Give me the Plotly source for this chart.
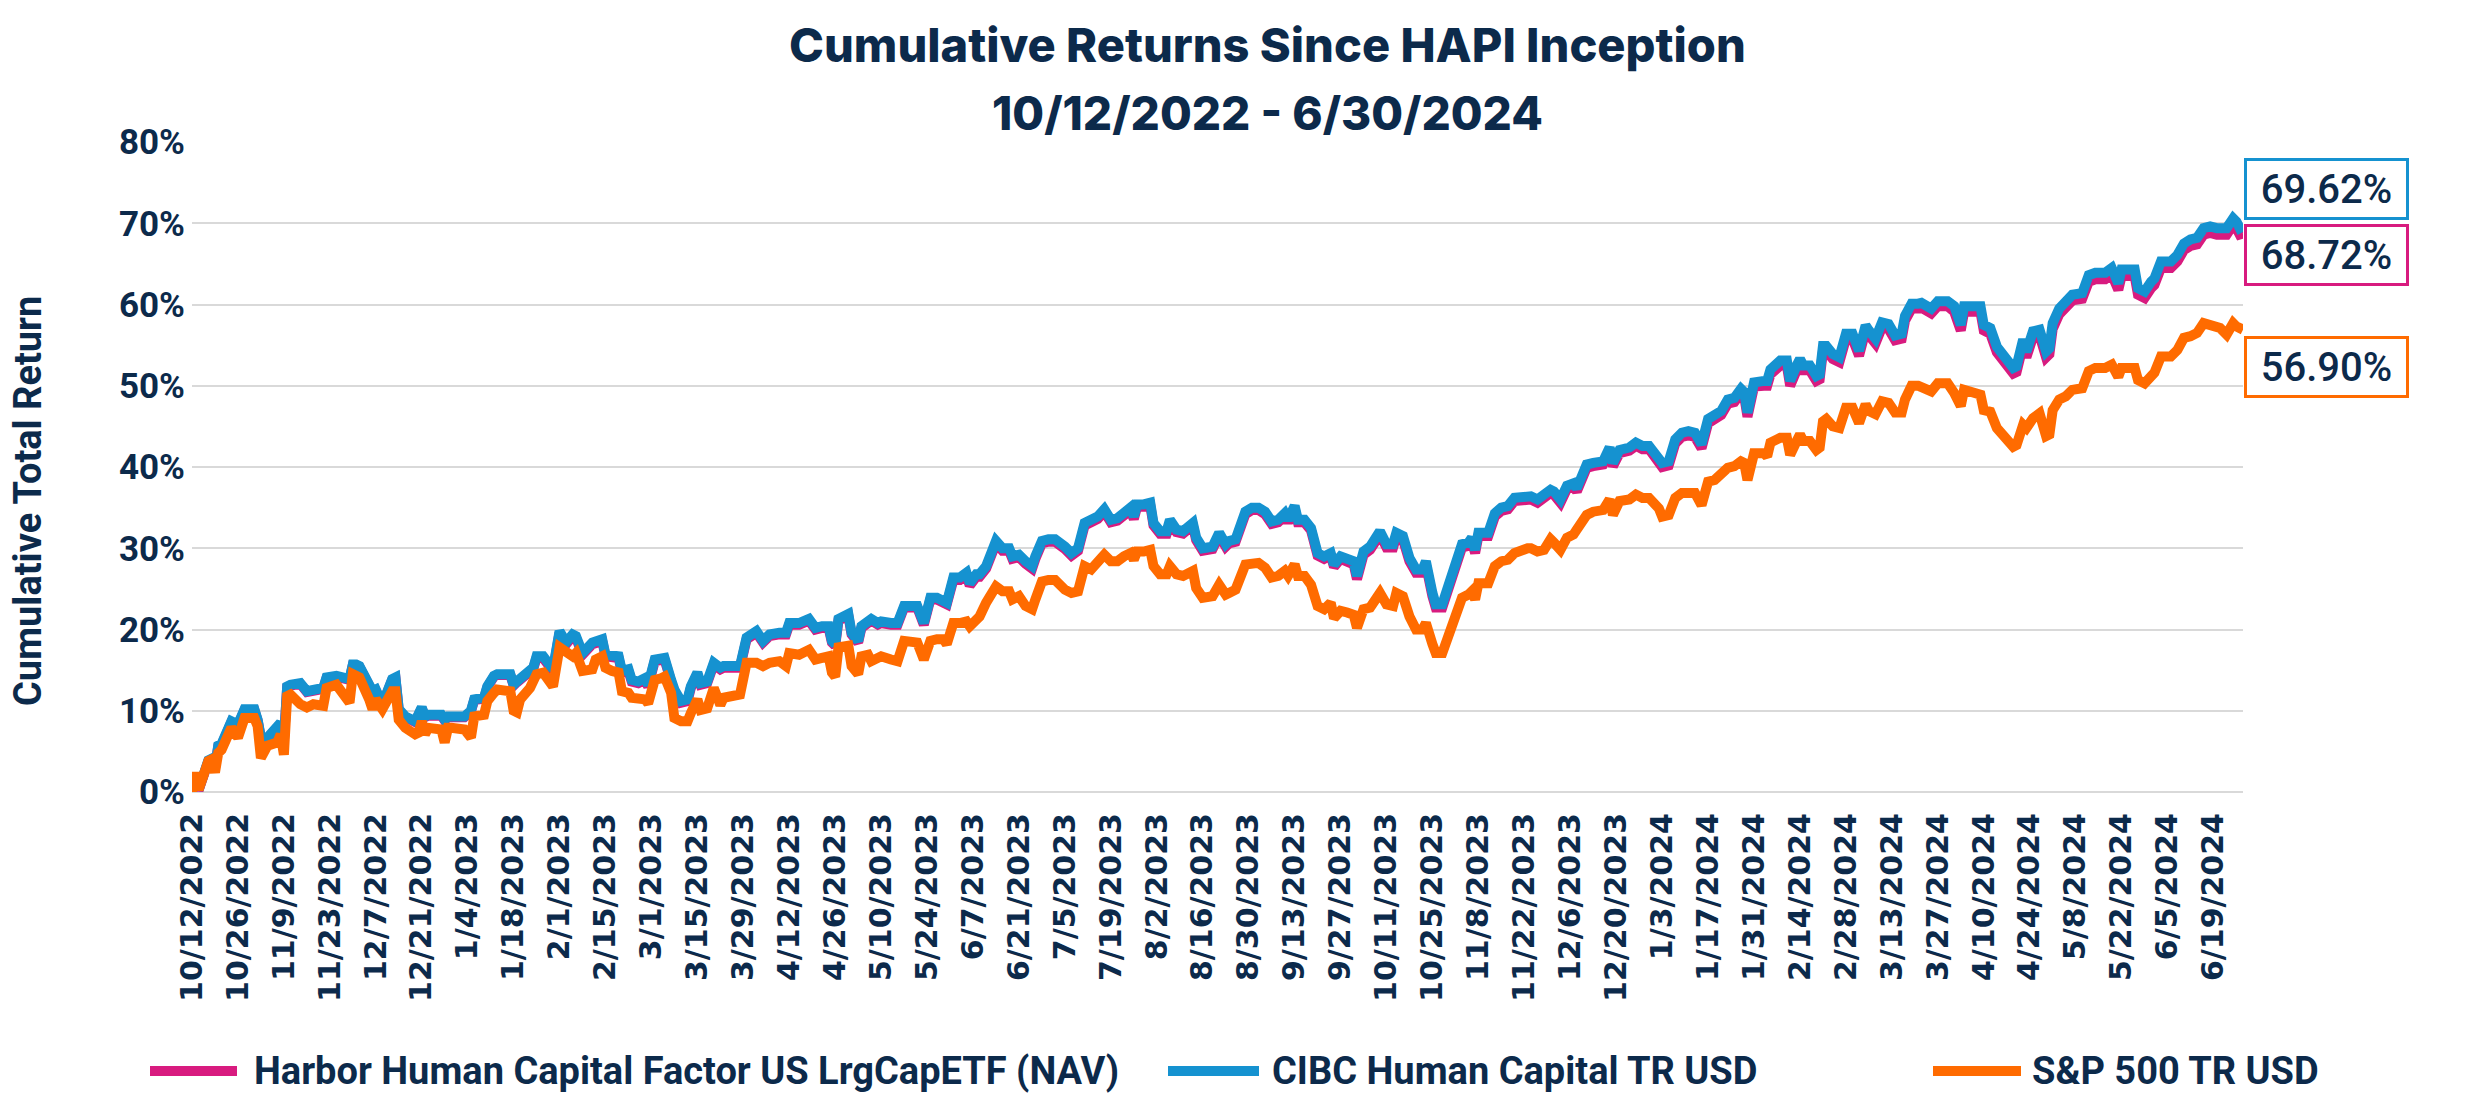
import plotly.graph_objects as go
import pandas as pd

# ---------------- data ----------------
dates = [
    "2022-10-12", "2022-10-13", "2022-10-14", "2022-10-17", "2022-10-18", "2022-10-19", "2022-10-20", "2022-10-21",
    "2022-10-24", "2022-10-26", "2022-10-28", "2022-10-31", "2022-11-01", "2022-11-02", "2022-11-04", "2022-11-07",
    "2022-11-08", "2022-11-09", "2022-11-10", "2022-11-11", "2022-11-14", "2022-11-16", "2022-11-18", "2022-11-21",
    "2022-11-22", "2022-11-24", "2022-11-25", "2022-11-29", "2022-11-30", "2022-12-01", "2022-12-02", "2022-12-05",
    "2022-12-06", "2022-12-07", "2022-12-09", "2022-12-12", "2022-12-13", "2022-12-14", "2022-12-16", "2022-12-19",
    "2022-12-20", "2022-12-21", "2022-12-22", "2022-12-23", "2022-12-27", "2022-12-28", "2022-12-29", "2022-12-30",
    "2023-01-03", "2023-01-05", "2023-01-06", "2023-01-09", "2023-01-10", "2023-01-12", "2023-01-13", "2023-01-17",
    "2023-01-18", "2023-01-19", "2023-01-20", "2023-01-23", "2023-01-24",
    "2023-01-25", "2023-01-27", "2023-01-30", "2023-02-01", "2023-02-03", "2023-02-05", "2023-02-06", "2023-02-08",
    "2023-02-11", "2023-02-12", "2023-02-14", "2023-02-15", "2023-02-17", "2023-02-19", "2023-02-20", "2023-02-22",
    "2023-02-23", "2023-02-25", "2023-02-27", "2023-02-28", "2023-03-02", "2023-03-04", "2023-03-05", "2023-03-07",
    "2023-03-08", "2023-03-10", "2023-03-12", "2023-03-13", "2023-03-15", "2023-03-16", "2023-03-18", "2023-03-20",
    "2023-03-22", "2023-03-23", "2023-03-26", "2023-03-28", "2023-03-30", "2023-04-01", "2023-04-02", "2023-04-04",
    "2023-04-06", "2023-04-09", "2023-04-11", "2023-04-12", "2023-04-15", "2023-04-18", "2023-04-20", "2023-04-22",
    "2023-04-24", "2023-04-25", "2023-04-26", "2023-04-27", "2023-04-30", "2023-05-01", "2023-05-03", "2023-05-04",
    "2023-05-06", "2023-05-07", "2023-05-09",
    "2023-05-10", "2023-05-13", "2023-05-15", "2023-05-17", "2023-05-19", "2023-05-21", "2023-05-23", "2023-05-25",
    "2023-05-27", "2023-05-29", "2023-05-30", "2023-06-01", "2023-06-03", "2023-06-05", "2023-06-06", "2023-06-08",
    "2023-06-09", "2023-06-11", "2023-06-12", "2023-06-14", "2023-06-16", "2023-06-18", "2023-06-19", "2023-06-21",
    "2023-06-23", "2023-06-25", "2023-06-26", "2023-06-28", "2023-06-30", "2023-07-02", "2023-07-05", "2023-07-07",
    "2023-07-09", "2023-07-11", "2023-07-13", "2023-07-15", "2023-07-17", "2023-07-19", "2023-07-21", "2023-07-23",
    "2023-07-25", "2023-07-26", "2023-07-27", "2023-07-29", "2023-07-31", "2023-08-01", "2023-08-03", "2023-08-05",
    "2023-08-06", "2023-08-08", "2023-08-10", "2023-08-13", "2023-08-14", "2023-08-16", "2023-08-19", "2023-08-21",
    "2023-08-23",
    "2023-08-24", "2023-08-26", "2023-08-29", "2023-08-31", "2023-09-02", "2023-09-04", "2023-09-06", "2023-09-08",
    "2023-09-10", "2023-09-11", "2023-09-13", "2023-09-14", "2023-09-16", "2023-09-18", "2023-09-20", "2023-09-22",
    "2023-09-24", "2023-09-25", "2023-09-27", "2023-09-29", "2023-10-01", "2023-10-02", "2023-10-03", "2023-10-04",
    "2023-10-06", "2023-10-08", "2023-10-09", "2023-10-11", "2023-10-13", "2023-10-14", "2023-10-16", "2023-10-18",
    "2023-10-20", "2023-10-22", "2023-10-23", "2023-10-25", "2023-10-26", "2023-10-28", "2023-10-30", "2023-11-01",
    "2023-11-03", "2023-11-05", "2023-11-06", "2023-11-07", "2023-11-08", "2023-11-11", "2023-11-13", "2023-11-15",
    "2023-11-17", "2023-11-19", "2023-11-21", "2023-11-23", "2023-11-24", "2023-11-26", "2023-11-28", "2023-11-30",
    "2023-12-01", "2023-12-03", "2023-12-05", "2023-12-07",
    "2023-12-08", "2023-12-11", "2023-12-13", "2023-12-16", "2023-12-18", "2023-12-19", "2023-12-21", "2023-12-24",
    "2023-12-26", "2023-12-28", "2023-12-30", "2024-01-02", "2024-01-03", "2024-01-05", "2024-01-07", "2024-01-09",
    "2024-01-11", "2024-01-13", "2024-01-15", "2024-01-17", "2024-01-19", "2024-01-21", "2024-01-23", "2024-01-25",
    "2024-01-27", "2024-01-28", "2024-01-29", "2024-01-31", "2024-02-03", "2024-02-04", "2024-02-05", "2024-02-07",
    "2024-02-08", "2024-02-10", "2024-02-11", "2024-02-13", "2024-02-14", "2024-02-15", "2024-02-17", "2024-02-19",
    "2024-02-20", "2024-02-21", "2024-02-22", "2024-02-24", "2024-02-26", "2024-02-28", "2024-03-01", "2024-03-03",
    "2024-03-05", "2024-03-06", "2024-03-08", "2024-03-10", "2024-03-12", "2024-03-14", "2024-03-16", "2024-03-17",
    "2024-03-19", "2024-03-21",
    "2024-03-22", "2024-03-25", "2024-03-27", "2024-03-30", "2024-04-01", "2024-04-03", "2024-04-04", "2024-04-07",
    "2024-04-09", "2024-04-10", "2024-04-12", "2024-04-14", "2024-04-16", "2024-04-19", "2024-04-20", "2024-04-22",
    "2024-04-23", "2024-04-25", "2024-04-27", "2024-04-29", "2024-04-30", "2024-05-01", "2024-05-03", "2024-05-05",
    "2024-05-07", "2024-05-10", "2024-05-12", "2024-05-14", "2024-05-17", "2024-05-19", "2024-05-21", "2024-05-22",
    "2024-05-26", "2024-05-27", "2024-05-29", "2024-05-31", "2024-06-01", "2024-06-03", "2024-06-06", "2024-06-08",
    "2024-06-10", "2024-06-12", "2024-06-14", "2024-06-16", "2024-06-18", "2024-06-20", "2024-06-21", "2024-06-23",
    "2024-06-24", "2024-06-25", "2024-06-26", "2024-06-27", "2024-06-28",
]

cibc = [
    0.0, 2.0, 0.3, 3.9, 4.1, 3.0, 5.7, 5.9, 8.7, 8.3, 10.2, 10.2, 8.9, 6.7, 6.7, 8.1,
    8.5, 6.3, 13.0, 13.2, 13.4, 12.4, 12.6, 12.8, 14.1, 14.3, 14.3, 13.9, 15.7, 15.7, 15.5, 13.2,
    12.4, 12.6, 10.8, 13.9, 14.1, 10.2, 9.3, 8.7, 9.8, 10.4, 9.3, 9.5, 9.5, 8.9, 9.3, 9.3,
    9.3, 10.0, 11.4, 11.6, 13.0, 14.3, 14.5, 14.5, 13.2, 13.6, 13.9, 15.1, 15.3,
    16.7, 16.7, 15.1, 19.8, 18.4, 19.4, 19.2, 17.1, 18.4, 18.6, 18.8, 16.9, 16.7, 16.7, 14.9, 15.1,
    13.8, 13.6, 14.0, 13.2, 16.3, 16.3, 16.5, 13.8, 12.6, 11.2, 11.4, 13.0, 14.7, 13.4, 13.6, 15.9,
    15.3, 15.5, 15.5, 15.5, 19.0, 19.4, 19.8, 18.6, 19.4, 19.6, 19.6, 20.8, 20.8, 21.3, 20.2, 20.4,
    20.4, 18.6, 18.2, 21.3, 21.9, 19.6, 18.6, 20.4, 20.8, 21.3, 20.8,
    21.0, 20.8, 20.8, 22.9, 22.9, 22.9, 20.8, 23.9, 23.9, 23.7, 23.3, 26.4, 26.4, 27.0, 25.7, 26.8,
    26.8, 27.8, 29.2, 30.9, 30.0, 30.0, 29.0, 29.2, 28.4, 27.8, 29.0, 30.9, 31.1, 31.1, 30.2, 29.4,
    30.0, 33.1, 33.5, 33.9, 34.8, 33.5, 33.7, 34.5, 35.0, 33.9, 35.4, 35.4, 35.6, 33.1, 32.1, 32.1,
    33.5, 32.3, 32.1, 33.1, 31.3, 30.0, 30.2, 31.9, 30.5,
    30.9, 31.1, 34.5, 35.0, 35.0, 34.5, 33.3, 33.5, 34.3, 33.5, 35.2, 33.5, 33.5, 32.5, 29.4, 29.0,
    29.4, 28.0, 29.0, 28.6, 28.4, 26.6, 27.8, 29.6, 30.2, 31.5, 32.1, 30.5, 30.5, 31.9, 31.5, 28.8,
    27.4, 27.4, 28.4, 24.5, 23.1, 23.1, 25.3, 28.2, 30.5, 30.7, 31.3, 29.8, 31.9, 31.9, 34.3, 35.0,
    35.2, 36.2, 36.4, 36.4, 36.4, 36.0, 36.6, 37.2, 37.0, 36.0, 37.7, 38.0,
    37.4, 40.3, 40.5, 40.7, 42.4, 40.5, 42.1, 42.4, 43.0, 42.6, 42.6, 41.1, 40.5, 40.7, 43.4, 44.2,
    44.4, 44.2, 42.8, 45.9, 46.3, 46.9, 48.3, 48.5, 49.6, 49.2, 46.7, 50.4, 50.6, 50.6, 52.0, 52.9,
    53.1, 53.1, 50.6, 52.5, 53.3, 52.5, 52.5, 51.2, 51.4, 54.9, 54.9, 53.9, 53.5, 56.4, 56.4, 54.3,
    57.4, 56.8, 55.8, 57.8, 57.6, 56.2, 56.4, 58.6, 60.1, 60.1,
    60.2, 59.5, 60.4, 60.4, 59.8, 57.5, 59.8, 59.8, 59.8, 57.5, 57.1, 54.8, 53.6, 52.2, 52.4, 55.7,
    54.2, 56.7, 56.9, 54.2, 54.6, 57.7, 59.5, 60.6, 61.2, 61.4, 63.6, 63.9, 63.9, 64.5, 62.6, 64.3,
    64.3, 62.0, 61.6, 62.8, 63.2, 65.3, 65.3, 66.1, 67.5, 68.0, 68.2, 69.4, 69.6, 69.4, 69.4, 69.4,
    70.0, 70.6, 70.2, 69.4, 69.62,
]

harbor = [
    0.0, 1.9, 0.2, 3.8, 4.0, 2.9, 5.6, 5.8, 8.6, 8.2, 10.1, 10.1, 8.8, 6.6, 6.6, 8.0,
    8.4, 6.2, 12.9, 13.1, 13.3, 12.3, 12.5, 12.7, 14.0, 14.2, 14.2, 13.8, 15.6, 15.6, 15.4, 13.1,
    12.3, 12.5, 10.7, 13.8, 14.0, 10.1, 9.2, 8.6, 9.7, 10.3, 9.2, 9.4, 9.4, 8.8, 9.2, 9.2,
    9.2, 9.9, 11.3, 11.5, 12.9, 14.2, 14.4, 14.4, 13.1, 13.5, 13.8, 15.0, 15.2,
    16.5, 16.5, 14.9, 19.6, 18.2, 19.2, 19.0, 16.9, 18.2, 18.4, 18.6, 16.7, 16.5, 16.5, 14.7, 14.9,
    13.6, 13.4, 13.8, 13.0, 16.1, 16.1, 16.3, 13.6, 12.4, 11.0, 11.2, 12.8, 14.5, 13.2, 13.4, 15.7,
    15.1, 15.3, 15.3, 15.3, 18.8, 19.2, 19.6, 18.4, 19.2, 19.4, 19.4, 20.6, 20.6, 21.1, 20.0, 20.2,
    20.2, 18.4, 18.0, 21.1, 21.7, 19.4, 18.4, 20.2, 20.6, 21.1, 20.6,
    20.8, 20.6, 20.6, 22.7, 22.7, 22.7, 20.6, 23.7, 23.7, 23.5, 23.1, 26.1, 26.1, 26.7, 25.4, 26.5,
    26.5, 27.5, 28.9, 30.6, 29.7, 29.7, 28.7, 28.9, 28.1, 27.5, 28.7, 30.6, 30.8, 30.8, 29.9, 29.1,
    29.7, 32.8, 33.2, 33.6, 34.5, 33.2, 33.4, 34.2, 34.7, 33.6, 35.1, 35.1, 35.3, 32.8, 31.8, 31.8,
    33.2, 32.0, 31.8, 32.8, 31.0, 29.7, 29.9, 31.6, 30.2,
    30.6, 30.8, 34.2, 34.7, 34.7, 34.2, 33.0, 33.2, 34.0, 33.2, 34.9, 33.2, 33.2, 32.2, 29.1, 28.7,
    29.1, 27.7, 28.7, 28.3, 28.0, 26.2, 27.4, 29.2, 29.8, 31.1, 31.7, 30.1, 30.1, 31.5, 31.1, 28.4,
    27.0, 27.0, 28.0, 24.1, 22.7, 22.7, 24.9, 27.8, 30.1, 30.3, 30.9, 29.4, 31.5, 31.5, 33.9, 34.6,
    34.8, 35.8, 36.0, 36.0, 36.0, 35.6, 36.2, 36.8, 36.6, 35.6, 37.3, 37.6,
    37.0, 39.9, 40.1, 40.3, 42.0, 40.1, 41.7, 42.0, 42.6, 42.2, 42.2, 40.6, 40.0, 40.2, 42.9, 43.7,
    43.9, 43.7, 42.3, 45.4, 45.8, 46.4, 47.8, 48.0, 49.1, 48.7, 46.2, 49.9, 50.0, 50.0, 51.4, 52.3,
    52.5, 52.5, 50.0, 51.9, 52.7, 51.9, 51.9, 50.6, 50.8, 54.3, 54.3, 53.3, 52.9, 55.8, 55.8, 53.7,
    56.8, 56.2, 55.2, 57.2, 57.0, 55.6, 55.8, 58.0, 59.5, 59.5,
    59.6, 58.9, 59.8, 59.8, 59.1, 56.8, 59.1, 59.1, 59.1, 56.8, 56.4, 54.1, 52.9, 51.5, 51.7, 55.0,
    53.5, 56.0, 56.2, 53.5, 53.9, 57.0, 58.8, 59.9, 60.5, 60.7, 62.8, 63.1, 63.1, 63.7, 61.8, 63.5,
    63.5, 61.2, 60.8, 62.0, 62.4, 64.5, 64.5, 65.3, 66.7, 67.2, 67.4, 68.6, 68.8, 68.6, 68.6, 68.6,
    69.2, 69.8, 69.4, 68.6, 68.72,
]

sp500 = [
    0.0, 2.4, 0.3, 3.8, 4.0, 2.4, 4.8, 5.2, 7.9, 6.7, 9.1, 9.1, 8.1, 4.2, 5.7, 6.1,
    7.1, 4.6, 11.8, 12.0, 10.8, 10.4, 10.8, 10.6, 12.8, 13.2, 13.2, 11.0, 14.5, 14.3, 14.1, 11.4,
    10.2, 11.4, 10.2, 12.4, 12.4, 8.9, 7.9, 7.1, 7.3, 8.7, 7.1, 7.9, 7.7, 6.1, 7.9, 7.9,
    7.7, 6.7, 9.3, 9.5, 11.2, 12.2, 12.6, 12.4, 10.0, 9.8, 11.4, 12.8, 13.4,
    14.5, 14.7, 13.0, 17.8, 17.1, 16.7, 17.1, 14.9, 15.1, 16.3, 16.7, 15.3, 14.9, 14.7, 12.4, 12.2,
    11.6, 11.4, 11.4, 10.9, 13.8, 14.0, 14.2, 12.2, 9.1, 8.7, 8.7, 9.7, 11.4, 10.1, 10.3, 12.8,
    10.7, 11.6, 12.0, 12.0, 15.9, 16.1, 15.9, 15.5, 15.9, 16.1, 15.5, 17.1, 16.9, 17.5, 16.3, 16.5,
    16.7, 14.7, 14.2, 17.8, 18.0, 15.5, 14.5, 16.7, 16.9, 16.1, 16.7,
    16.7, 16.3, 16.1, 18.6, 18.4, 18.4, 16.3, 18.6, 18.8, 18.8, 18.2, 20.8, 20.8, 21.0, 20.4, 21.4,
    21.6, 23.3, 24.1, 25.3, 24.7, 24.7, 23.7, 24.1, 22.9, 22.5, 23.7, 25.9, 26.1, 26.1, 24.9, 24.5,
    24.7, 27.8, 27.4, 28.4, 29.2, 28.4, 28.4, 29.0, 29.4, 28.6, 29.6, 29.6, 29.8, 27.8, 26.8, 26.8,
    27.8, 26.8, 26.6, 27.2, 25.1, 23.9, 24.1, 25.5, 24.3,
    24.5, 24.9, 28.0, 28.2, 28.2, 27.6, 26.4, 26.6, 27.2, 26.6, 28.0, 26.6, 26.6, 25.5, 22.9, 22.5,
    23.3, 21.4, 22.3, 22.1, 21.8, 20.2, 21.2, 22.5, 22.7, 24.1, 24.5, 23.1, 22.9, 24.5, 24.1, 21.6,
    20.0, 20.0, 20.8, 18.2, 17.1, 17.1, 19.2, 22.1, 23.9, 24.3, 24.7, 23.7, 25.7, 25.7, 27.8, 28.4,
    28.6, 29.4, 29.8, 30.0, 30.0, 29.6, 29.8, 31.1, 30.7, 29.8, 31.3, 31.7,
    32.3, 34.1, 34.5, 34.7, 36.0, 34.1, 35.8, 36.0, 36.6, 36.2, 36.2, 34.9, 33.9, 34.1, 36.2, 36.8,
    36.8, 36.8, 35.3, 38.2, 38.4, 39.1, 39.9, 40.1, 40.7, 40.5, 38.4, 41.7, 41.7, 41.3, 43.0, 43.4,
    43.6, 43.6, 41.5, 43.2, 44.0, 43.2, 43.2, 42.1, 42.4, 45.6, 45.9, 45.0, 44.8, 47.3, 47.3, 45.4,
    47.7, 46.9, 46.5, 48.1, 47.9, 46.7, 46.7, 48.3, 50.0, 50.0,
    49.9, 49.3, 50.3, 50.3, 49.1, 47.5, 49.5, 49.3, 48.9, 47.0, 46.8, 44.8, 43.8, 42.5, 42.7, 45.2,
    44.8, 46.0, 46.6, 43.8, 44.0, 47.0, 48.3, 48.7, 49.5, 49.7, 51.8, 52.2, 52.2, 52.6, 51.1, 52.2,
    52.2, 50.7, 50.3, 51.4, 51.6, 53.6, 53.6, 54.4, 55.9, 56.1, 56.5, 57.7, 57.5, 57.3, 57.1, 56.3,
    57.3, 57.7, 57.3, 56.9, 56.90,
]

series_names = ["Harbor Human Capital Factor US LrgCapETF (NAV)", "CIBC Human Capital TR USD", "S&P 500 TR USD"]
series_colors = ["#D81B7F", "#1592D0", "#FF6B00"]

tick_labels = [
    "10/12/2022", "10/26/2022", "11/9/2022", "11/23/2022", "12/7/2022", "12/21/2022", "1/4/2023", "1/18/2023",
    "2/1/2023", "2/15/2023", "3/1/2023", "3/15/2023", "3/29/2023", "4/12/2023", "4/26/2023", "5/10/2023",
    "5/24/2023", "6/7/2023", "6/21/2023", "7/5/2023", "7/19/2023", "8/2/2023", "8/16/2023", "8/30/2023",
    "9/13/2023", "9/27/2023", "10/11/2023", "10/25/2023", "11/8/2023", "11/22/2023", "12/6/2023", "12/20/2023",
    "1/3/2024", "1/17/2024", "1/31/2024", "2/14/2024", "2/28/2024", "3/13/2024", "3/27/2024", "4/10/2024",
    "4/24/2024", "5/8/2024", "5/22/2024", "6/5/2024", "6/19/2024",
]
y_ticks = [0, 10, 20, 30, 40, 50, 60, 70, 80]
y_tick_text = ["0%", "10%", "20%", "30%", "40%", "50%", "60%", "70%", "80%"]

title_line1 = "Cumulative Returns Since HAPI Inception"
title_line2 = "10/12/2022 - 6/30/2024"
y_title = "Cumulative Total Return"

# ---------------- layout geometry ----------------
W, H = 2468, 1113
PL, PR, PT, PB = 192, 2243, 142, 792
NAVY = "#0C2A4B"


def px_x(px):
    return (px - PL) / (PR - PL)


def px_y(py):
    return (PB - py) / (PB - PT)


x_dates = pd.to_datetime(dates)
tick_vals = pd.to_datetime(tick_labels, format="%m/%d/%Y")

fig = go.Figure()
for name, vals, col in zip(series_names, [harbor, cibc, sp500], series_colors):
    fig.add_trace(go.Scatter(x=x_dates, y=vals, mode="lines", name=name,
                             line=dict(color=col, width=10), showlegend=False,
                             hoverinfo="skip"))

annotations = []
annotations.append(dict(text=title_line1, x=px_x(1267), y=px_y(44), xref="paper", yref="paper",
                        xanchor="center", yanchor="middle", showarrow=False,
                        font=dict(family="Inter", size=47, color=NAVY, weight=800)))
annotations.append(dict(text=title_line2, x=px_x(1267), y=px_y(113), xref="paper", yref="paper",
                        xanchor="center", yanchor="middle", showarrow=False,
                        font=dict(family="Inter", size=46, color=NAVY, weight=800)))
annotations.append(dict(text=y_title, x=px_x(28), y=px_y(501), xref="paper", yref="paper",
                        xanchor="center", yanchor="middle", showarrow=False, textangle=-90,
                        font=dict(family="Roboto", size=38, color=NAVY, weight=700)))

# end-value boxes
end_boxes = [
    (cibc[-1], series_colors[1], 189),
    (harbor[-1], series_colors[0], 254.5),
    (sp500[-1], series_colors[2], 366.5),
]
for val, col, cy in end_boxes:
    annotations.append(dict(text=f"{val:.2f}%", x=px_x(2244), y=px_y(cy), xref="paper", yref="paper",
                            xanchor="left", yanchor="middle", showarrow=False,
                            width=159, height=56, align="center", valign="middle",
                            bordercolor=col, borderwidth=3, borderpad=0, bgcolor="white",
                            font=dict(family="Roboto", size=40, color=NAVY, weight=500)))

# custom legend
legend_items = [(150, 237, 252), (1168, 1259, 1270), (1933, 2021, 2030)]
shapes = []
LEG_Y = 1071
for (x0, x1, tx), name, col in zip(legend_items, series_names, series_colors):
    shapes.append(dict(type="line", xref="paper", yref="paper", x0=px_x(x0), x1=px_x(x1),
                       y0=px_y(LEG_Y), y1=px_y(LEG_Y), line=dict(color=col, width=10)))
    annotations.append(dict(text=name, x=px_x(tx), y=px_y(LEG_Y), xref="paper", yref="paper",
                            xanchor="left", yanchor="middle", showarrow=False,
                            font=dict(family="Roboto", size=38, color=NAVY, weight=700)))

fig.update_layout(
    width=W, height=H,
    margin=dict(l=PL, r=W - PR, t=PT, b=H - PB, pad=0),
    paper_bgcolor="white", plot_bgcolor="white",
    showlegend=False,
    annotations=annotations,
    shapes=shapes,
    xaxis=dict(type="date", range=[x_dates[0], x_dates[-1]], tickvals=tick_vals, ticktext=tick_labels,
               tickangle=-90, showgrid=False, zeroline=False, showline=False, ticks="",
               ticklabelstandoff=14,
               tickfont=dict(family="DejaVu Sans", size=30, color=NAVY, weight=700)),
    yaxis=dict(range=[0, 80], tickvals=y_ticks, ticktext=y_tick_text, showgrid=True, gridcolor="#D9D9D9",
               gridwidth=2, zeroline=True, zerolinecolor="#D9D9D9", zerolinewidth=2, showline=False,
               ticks="", ticklabelstandoff=6,
               tickfont=dict(family="Roboto", size=35, color=NAVY, weight=700)),
)

fig.write_html("out.html", config={"displayModeBar": False},
               post_script="document.body.style.margin='0';document.body.style.overflow='hidden';")
